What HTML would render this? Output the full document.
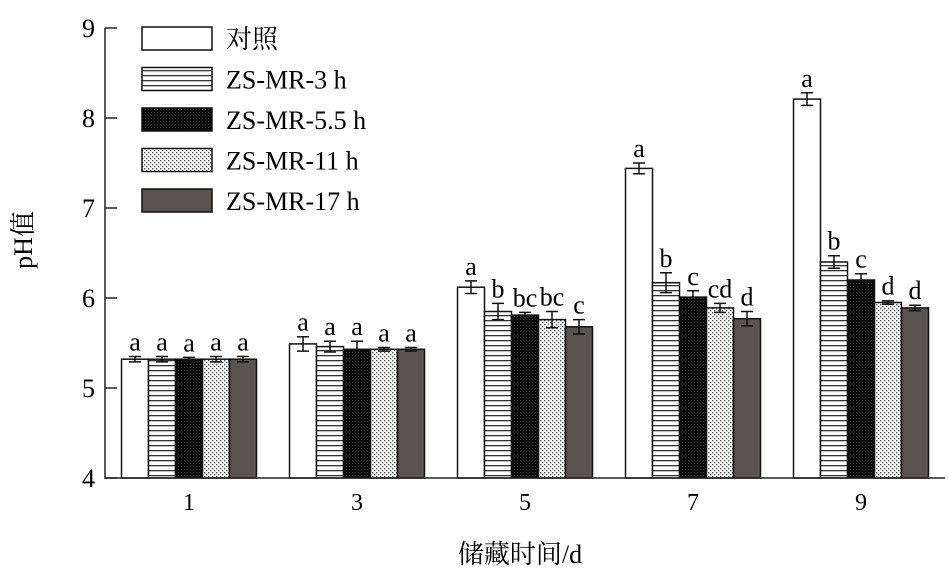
<!DOCTYPE html>
<html><head><meta charset="utf-8"><style>
html,body{margin:0;padding:0;background:#fff;}
svg{display:block;font-family:"Liberation Serif","Noto Serif CJK SC",serif;}
</style></head><body>
<svg id="chart" width="948" height="580" viewBox="0 0 948 580" xmlns="http://www.w3.org/2000/svg">
<defs>
<pattern id="p-h" width="6" height="5" patternUnits="userSpaceOnUse"><rect width="6" height="5" fill="#fff"/><rect y="0" width="6" height="1.3" fill="#333"/></pattern>
<pattern id="p-b" width="3" height="3" patternUnits="userSpaceOnUse"><rect width="3" height="3" fill="#0a0a0a"/><rect x="1" y="1" width="1" height="1" fill="#3a3a3a"/></pattern>
<pattern id="p-d" width="4" height="4" patternUnits="userSpaceOnUse"><rect width="4" height="4" fill="#fff"/><rect x="0" y="0" width="1.3" height="1.3" fill="#444"/><rect x="2" y="2" width="1.3" height="1.3" fill="#444"/></pattern>
</defs>
<g id="plot"></g>
<g id="legend"></g>
<text transform="translate(32,240) rotate(-90)" text-anchor="middle" font-size="26">pH值</text>
<text x="520" y="563" text-anchor="middle" font-size="26">储藏时间/d</text>
</svg>
<script>
const categories = ["1","3","5","7","9"];
const seriesNames = ["对照","ZS-MR-3 h","ZS-MR-5.5 h","ZS-MR-11 h","ZS-MR-17 h"];
const s0 = [5.32,5.49,6.12,7.44,8.21];
const s1 = [5.32,5.46,5.85,6.17,6.40];
const s2 = [5.32,5.43,5.81,6.01,6.20];
const s3 = [5.32,5.43,5.76,5.89,5.95];
const s4 = [5.32,5.43,5.68,5.77,5.89];
const e0 = [0.03,0.08,0.07,0.06,0.07];
const e1 = [0.03,0.06,0.09,0.11,0.07];
const e2 = [0.02,0.09,0.03,0.07,0.07];
const e3 = [0.03,0.02,0.09,0.05,0.02];
const e4 = [0.03,0.02,0.08,0.08,0.03];
const l0 = ["a","a","a","a","a"];
const l1 = ["a","a","b","b","b"];
const l2 = ["a","a","bc","c","c"];
const l3 = ["a","a","bc","cd","d"];
const l4 = ["a","a","c","d","d"];
const yTicks = [4,5,6,7,8,9];

const NS="http://www.w3.org/2000/svg";
const X0=105,X1=945,Y0=478,Y9=28;
const yS=v=>Y0-(v-4)*(Y0-Y9)/5;
const groupW=(X1-X0)/categories.length;
const xC=i=>X0+groupW*(i+0.5);
const barW=27;
const fills=["#fff","url(#p-h)","url(#p-b)","url(#p-d)","#5a5350"];
const vals=[s0,s1,s2,s3,s4], errs=[e0,e1,e2,e3,e4], lets=[l0,l1,l2,l3,l4];
const plot=document.getElementById('plot');
function mk(t,a,p){const e=document.createElementNS(NS,t);for(const k in a)e.setAttribute(k,a[k]);(p||plot).appendChild(e);return e;}

categories.forEach((c,i)=>{
  for(let s=0;s<5;s++){
    const v=vals[s][i],x=xC(i)+(s-2.5)*barW,y=yS(v);
    const r=mk('rect',{x:x,y:y,width:barW,height:Y0-y,fill:fills[s],stroke:'#111','stroke-width':1.5});
    
    
    const cx=x+barW/2,e=errs[s][i];
    const eb=mk('path',{d:`M${cx},${yS(v+e)}V${yS(v-e)}M${cx-6},${yS(v+e)}H${cx+6}M${cx-6},${yS(v-e)}H${cx+6}`,stroke:'#111','stroke-width':1.5,fill:'none'});
    
    
    const t=mk('text',{x:cx,y:yS(v+e)-6,'text-anchor':'middle','font-size':26});
    
    
    t.textContent=lets[s][i];
  }
  const tl=mk('text',{x:xC(i),y:Y0+32,'text-anchor':'middle','font-size':24});
  
  
  tl.textContent=c;
});
const ax=mk('path',{d:`M${X0},${Y9}V${Y0}H${X1}`,stroke:'#222','stroke-width':1.5,fill:'none'});


yTicks.forEach(v=>{
  const tk=mk('path',{d:`M${X0},${yS(v)}H${X0+12}`,stroke:'#222','stroke-width':1.5});
  
  
  const t=mk('text',{x:X0-10,y:yS(v)+9,'text-anchor':'end','font-size':26});
  
  
  t.textContent=v;
});
const lg=document.getElementById('legend');


seriesNames.forEach((n,s)=>{
  const y=27+s*40.5;
  const r=mk('rect',{x:142,y:y,width:70,height:23,fill:fills[s],stroke:'#111','stroke-width':1.5},lg);
  
  
  const t=mk('text',{x:226,y:y+21,'font-size':26},lg);
  
  
  t.textContent=n;
});
</script>
</body></html>
